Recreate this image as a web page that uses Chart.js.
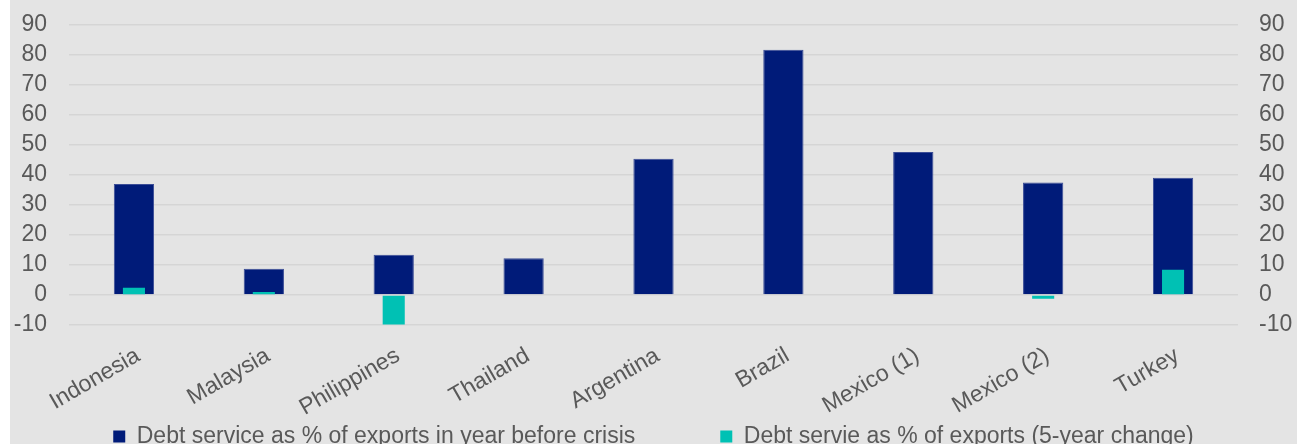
<!DOCTYPE html>
<html>
<head>
<meta charset="utf-8">
<script src="https://cdn.jsdelivr.net/npm/chart.js@4/dist/chart.umd.min.js"></script>
<style>
  html, body { margin: 0; padding: 0; background: #ffffff; }
  #frame {
    position: absolute; left: 10px; top: 0;
    width: 1287px; height: 444px;
    overflow: hidden; background: #e4e4e4;
  }
  canvas { display: block; }
</style>
</head>
<body>
<div id="frame"><canvas id="chart" width="1287" height="458"></canvas></div>
<script>
// Debt service burden ahead of emerging-market crises (% of exports)
const countries = ['Indonesia', 'Malaysia', 'Philippines', 'Thailand', 'Argentina',
                   'Brazil', 'Mexico (1)', 'Mexico (2)', 'Turkey'];
const debtServiceLevel  = [36.9, 8.7, 13.4, 12.2, 45.3, 81.6, 47.6, 37.4, 39.0];
const debtServiceChange = [2.4, 1.0, -9.8, null, null, null, null, -1.3, 8.4];
const axisTicks = [-10, 0, 10, 20, 30, 40, 50, 60, 70, 80, 90];

const levelLabel  = 'Debt service as % of exports in year before crisis';
const changeLabel = 'Debt servie as % of exports (5-year change)';

const textColor = '#595959';
const gridColor = '#d5d5d5';
const fontSpec = { family: '"Liberation Sans", Arial, sans-serif', size: 23 };

const fixedTicks = scale => { scale.ticks = axisTicks.map(v => ({ value: v })); };

const yAxis = (position, padding) => ({
  type: 'linear',
  position,
  min: axisTicks[0],
  max: axisTicks[axisTicks.length - 1],
  afterBuildTicks: fixedTicks,
  afterFit: scale => {
    scale.width = 59;
    scale.paddingTop = 0;
    scale.paddingBottom = 0;
  },
  grid: { display: position === 'left', color: gridColor, lineWidth: 1.6, drawTicks: false },
  border: { display: false },
  ticks: { color: textColor, font: fontSpec, padding, autoSkip: false }
});

new Chart(document.getElementById('chart'), {
  type: 'bar',
  data: {
    labels: countries,
    datasets: [
      {
        label: levelLabel,
        data: debtServiceLevel,
        backgroundColor: '#001b79',
        borderColor: '#3a4c96',
        borderWidth: 1,
        grouped: false,
        categoryPercentage: 1,
        barPercentage: 0.31,
        order: 1,
        yAxisID: 'y'
      },
      {
        label: changeLabel,
        data: debtServiceChange,
        backgroundColor: '#00c1b4',
        borderWidth: 0,
        grouped: false,
        categoryPercentage: 1,
        barPercentage: 0.17,
        order: 0,
        yAxisID: 'y'
      }
    ]
  },
  options: {
    responsive: false,
    animation: false,
    layout: { padding: { top: 24.5, left: 0, right: 0, bottom: 0 } },
    scales: {
      x: {
        grid: { display: false, drawTicks: false },
        border: { display: false },
        // labels hang below the axis line, drawn outside the thin axis box
        afterFit: scale => { scale.height = 15; },
        ticks: {
          color: textColor, font: fontSpec,
          minRotation: 30, maxRotation: 30,
          autoSkip: false, mirror: true, padding: -41, labelOffset: 18
        }
      },
      y: yAxis('left', 22),
      y2: yAxis('right', 21)
    },
    plugins: {
      legend: {
        position: 'bottom',
        labels: {
          color: textColor, font: fontSpec,
          boxWidth: 12, boxHeight: 12, padding: 85,
          generateLabels: chart => chart.data.datasets.map((ds, i) => ({
            text: ds.label,
            fillStyle: ds.backgroundColor,
            strokeStyle: ds.backgroundColor,
            lineWidth: 0,
            fontColor: textColor,
            datasetIndex: i,
            hidden: false
          }))
        }
      },
      tooltip: { enabled: false }
    }
  }
});
</script>
</body>
</html>
